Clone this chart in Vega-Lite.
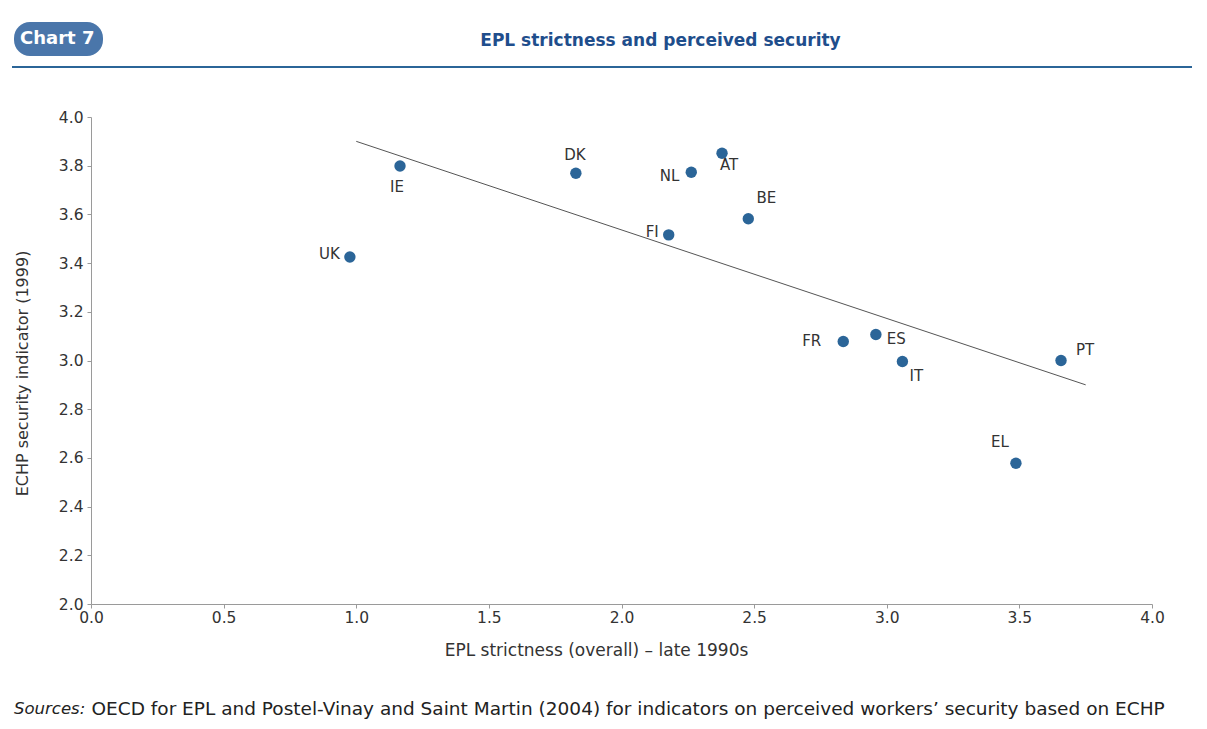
{
  "$schema": "https://vega.github.io/schema/vega-lite/v6.json",
  "width": 1061,
  "height": 487,
  "autosize": {"type": "none"},
  "padding": {"left": 91, "top": 117, "right": 55, "bottom": 125},
  "background": "white",
  "config": {
    "font": "DejaVu Sans",
    "view": {"stroke": null},
    "text": {"font": "DejaVu Sans", "fontSize": 15, "color": "#333333", "baseline": "middle"}
  },
  "datasets": {
    "countries": [
      {"c": "UK", "epl": 0.976, "security": 3.425},
      {"c": "IE", "epl": 1.165, "security": 3.799},
      {"c": "DK", "epl": 1.828, "security": 3.769},
      {"c": "NL", "epl": 2.263, "security": 3.773},
      {"c": "AT", "epl": 2.379, "security": 3.851},
      {"c": "BE", "epl": 2.478, "security": 3.582},
      {"c": "FI", "epl": 2.178, "security": 3.516},
      {"c": "FR", "epl": 2.836, "security": 3.078},
      {"c": "ES", "epl": 2.959, "security": 3.107},
      {"c": "IT", "epl": 3.059, "security": 2.996},
      {"c": "PT", "epl": 3.657, "security": 3.0},
      {"c": "EL", "epl": 3.487, "security": 2.578}
    ],
    "trend": [
      {"x": 1.0, "y": 3.9},
      {"x": 3.75, "y": 2.9}
    ]
  },
  "layer": [
    {
      "data": {"name": "countries"},
      "encoding": {
        "x": {
          "field": "epl", "type": "quantitative",
          "scale": {"domain": [0, 4], "nice": false, "zero": false},
          "axis": {
            "values": [0, 0.5, 1, 1.5, 2, 2.5, 3, 3.5, 4], "format": ".1f", "labelFlush": false,
            "grid": false, "domainColor": "#9a9a9a", "tickColor": "#9a9a9a", "tickSize": 4,
            "labelFontSize": 15.5, "labelColor": "#333333", "labelPadding": 2,
            "title": "EPL strictness (overall) – late 1990s", "titleFontSize": 17, "titleFontWeight": "normal",
            "titleColor": "#333333", "titleX": 505, "titleY": 46, "titleBaseline": "middle", "titleAnchor": "middle"
          }
        },
        "y": {
          "field": "security", "type": "quantitative",
          "scale": {"domain": [2, 4], "nice": false, "zero": false},
          "axis": {
            "values": [2, 2.2, 2.4, 2.6, 2.8, 3, 3.2, 3.4, 3.6, 3.8, 4], "format": ".1f", "labelFlush": false,
            "grid": false, "domainColor": "#9a9a9a", "tickColor": "#9a9a9a", "tickSize": 4,
            "labelFontSize": 15.5, "labelColor": "#333333", "labelPadding": 4,
            "title": "ECHP security indicator (1999)", "titleFontSize": 16, "titleFontWeight": "normal",
            "titleColor": "#333333", "titleX": -69, "titleY": 256, "titleBaseline": "middle", "titleAngle": -90
          }
        }
      },
      "layer": [
        {
          "mark": {"type": "point", "filled": true, "opacity": 1, "size": 130, "strokeWidth": 0},
          "encoding": {
            "fill": {
              "field": "security", "type": "quantitative",
              "scale": {"range": ["#2B6598", "#2B6598"]},
              "legend": {
                "orient": "none", "legendX": -79, "legendY": -51, "direction": "horizontal",
                "gradientLength": 1180, "gradientThickness": 2, "gradientStrokeWidth": 0,
                "title": null, "labelExpr": "''", "padding": 0
              }
            },
            "shape": {
              "datum": "OECD for EPL and Postel-Vinay and Saint Martin (2004) for indicators on perceived workers’ security based on ECHP",
              "type": "nominal",
              "scale": {"range": ["circle"]},
              "legend": {
                "orient": "none", "legendX": -77, "legendY": 583,
                "title": "Sources:", "titleOrient": "left", "titleFontStyle": "italic", "titleFontWeight": "normal",
                "titleFontSize": 16.5, "titleColor": "#222222", "titlePadding": 5, "titleBaseline": "middle",
                "labelFontSize": 18.5, "labelColor": "#222222", "labelLimit": 2000,
                "symbolSize": 0, "symbolOpacity": 0, "symbolStrokeWidth": 0, "labelOffset": -18, "padding": 0
              }
            }
          }
        },
        {
          "transform": [{"filter": "datum.c === 'UK' || datum.c === 'FI'"}],
          "mark": {"type": "text", "align": "right", "dx": -10, "dy": -3},
          "encoding": {"text": {"field": "c"}}
        },
        {
          "transform": [{"filter": "datum.c === 'NL'"}],
          "mark": {"type": "text", "align": "right", "dx": -12, "dy": 4},
          "encoding": {"text": {"field": "c"}}
        },
        {
          "transform": [{"filter": "datum.c === 'FR'"}],
          "mark": {"type": "text", "align": "right", "dx": -22, "dy": -1},
          "encoding": {"text": {"field": "c"}}
        },
        {
          "transform": [{"filter": "datum.c === 'ES'"}],
          "mark": {"type": "text", "align": "left", "dx": 11, "dy": 5},
          "encoding": {"text": {"field": "c"}}
        },
        {
          "transform": [{"filter": "datum.c === 'PT'"}],
          "mark": {"type": "text", "align": "left", "dx": 15, "dy": -11},
          "encoding": {"text": {"field": "c"}}
        },
        {
          "transform": [{"filter": "datum.c === 'IE'"}],
          "mark": {"type": "text", "align": "center", "dx": -3, "dy": 21},
          "encoding": {"text": {"field": "c"}}
        },
        {
          "transform": [{"filter": "datum.c === 'DK'"}],
          "mark": {"type": "text", "align": "center", "dx": -1, "dy": -18},
          "encoding": {"text": {"field": "c"}}
        },
        {
          "transform": [{"filter": "datum.c === 'AT'"}],
          "mark": {"type": "text", "align": "center", "dx": 7, "dy": 12},
          "encoding": {"text": {"field": "c"}}
        },
        {
          "transform": [{"filter": "datum.c === 'IT'"}],
          "mark": {"type": "text", "align": "center", "dx": 14, "dy": 15},
          "encoding": {"text": {"field": "c"}}
        },
        {
          "transform": [{"filter": "datum.c === 'BE'"}],
          "mark": {"type": "text", "align": "center", "dx": 18, "dy": -21},
          "encoding": {"text": {"field": "c"}}
        },
        {
          "transform": [{"filter": "datum.c === 'EL'"}],
          "mark": {"type": "text", "align": "center", "dx": -16, "dy": -21},
          "encoding": {"text": {"field": "c"}}
        }
      ]
    },
    {
      "data": {"name": "trend"},
      "mark": {"type": "line", "strokeWidth": 1},
      "encoding": {
        "x": {
          "field": "x", "type": "quantitative",
          "axis": {
            "orient": "top", "domain": false, "ticks": false, "labels": false, "grid": false,
            "title": "EPL strictness and perceived security", "titleFontSize": 17, "titleFontWeight": "bold",
            "titleColor": "#1F4E8C", "titleX": 569, "titleY": -77, "titleBaseline": "middle", "titleAnchor": "middle"
          }
        },
        "y": {"field": "y", "type": "quantitative", "axis": null},
        "color": {
          "datum": "Chart 7", "type": "nominal",
          "scale": {"range": ["#555555"]},
          "legend": {
            "orient": "none", "legendX": -77, "legendY": -95, "title": null,
            "fillColor": "#4A76AA", "cornerRadius": 16, "padding": 8,
            "labelColor": "white", "labelFontSize": 18, "labelFontWeight": "bold",
            "symbolSize": 0, "symbolOpacity": 0, "symbolStrokeWidth": 0, "labelOffset": -20
          }
        }
      }
    }
  ],
  "resolve": {"axis": {"x": "independent", "y": "independent"}}
}
